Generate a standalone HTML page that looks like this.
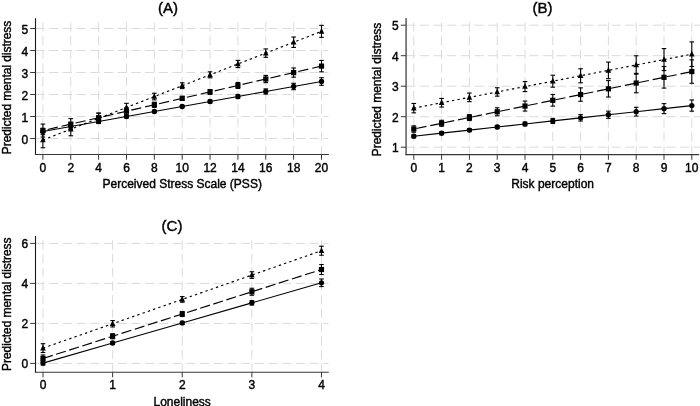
<!DOCTYPE html>
<html><head><meta charset="utf-8"><title>Predicted mental distress</title>
<style>
html,body{margin:0;padding:0;background:#fff;}
body{width:700px;height:406px;overflow:hidden;}
svg{display:block;}
svg text{font-family:"Liberation Sans",Arial,Helvetica,sans-serif;fill:#000;stroke:#000;stroke-width:0.4px;}
</style></head><body>
<svg width="700" height="406" viewBox="0 0 700 406">
<rect x="0" y="0" width="700" height="406" fill="#ffffff"/>
<line x1="35.50" y1="138.50" x2="328.40" y2="138.50" stroke="#dbdbdb" stroke-width="1" stroke-dasharray="9.2 4.5"/>
<line x1="35.50" y1="116.50" x2="328.40" y2="116.50" stroke="#dbdbdb" stroke-width="1" stroke-dasharray="9.2 4.5"/>
<line x1="35.50" y1="94.50" x2="328.40" y2="94.50" stroke="#dbdbdb" stroke-width="1" stroke-dasharray="9.2 4.5"/>
<line x1="35.50" y1="72.50" x2="328.40" y2="72.50" stroke="#dbdbdb" stroke-width="1" stroke-dasharray="9.2 4.5"/>
<line x1="35.50" y1="50.50" x2="328.40" y2="50.50" stroke="#dbdbdb" stroke-width="1" stroke-dasharray="9.2 4.5"/>
<line x1="35.50" y1="28.50" x2="328.40" y2="28.50" stroke="#dbdbdb" stroke-width="1" stroke-dasharray="9.2 4.5"/>
<line x1="42.90" y1="22.30" x2="42.90" y2="154.50" stroke="#dbdbdb" stroke-width="1" stroke-dasharray="9.2 4.5"/>
<line x1="70.76" y1="22.30" x2="70.76" y2="154.50" stroke="#dbdbdb" stroke-width="1" stroke-dasharray="9.2 4.5"/>
<line x1="98.62" y1="22.30" x2="98.62" y2="154.50" stroke="#dbdbdb" stroke-width="1" stroke-dasharray="9.2 4.5"/>
<line x1="126.48" y1="22.30" x2="126.48" y2="154.50" stroke="#dbdbdb" stroke-width="1" stroke-dasharray="9.2 4.5"/>
<line x1="154.34" y1="22.30" x2="154.34" y2="154.50" stroke="#dbdbdb" stroke-width="1" stroke-dasharray="9.2 4.5"/>
<line x1="182.20" y1="22.30" x2="182.20" y2="154.50" stroke="#dbdbdb" stroke-width="1" stroke-dasharray="9.2 4.5"/>
<line x1="210.06" y1="22.30" x2="210.06" y2="154.50" stroke="#dbdbdb" stroke-width="1" stroke-dasharray="9.2 4.5"/>
<line x1="237.92" y1="22.30" x2="237.92" y2="154.50" stroke="#dbdbdb" stroke-width="1" stroke-dasharray="9.2 4.5"/>
<line x1="265.78" y1="22.30" x2="265.78" y2="154.50" stroke="#dbdbdb" stroke-width="1" stroke-dasharray="9.2 4.5"/>
<line x1="293.64" y1="22.30" x2="293.64" y2="154.50" stroke="#dbdbdb" stroke-width="1" stroke-dasharray="9.2 4.5"/>
<line x1="321.50" y1="22.30" x2="321.50" y2="154.50" stroke="#dbdbdb" stroke-width="1" stroke-dasharray="9.2 4.5"/>
<line x1="35.50" y1="18.20" x2="35.50" y2="155.05" stroke="#1a1a1a" stroke-width="1.1"/>
<line x1="34.95" y1="154.50" x2="328.90" y2="154.50" stroke="#383838" stroke-width="1.05"/>
<line x1="30.20" y1="138.50" x2="35.50" y2="138.50" stroke="#383838" stroke-width="1.0"/>
<text x="28.20" y="143.50" font-size="12" text-anchor="end">0</text>
<line x1="30.20" y1="116.50" x2="35.50" y2="116.50" stroke="#383838" stroke-width="1.0"/>
<text x="28.20" y="121.50" font-size="12" text-anchor="end">1</text>
<line x1="30.20" y1="94.50" x2="35.50" y2="94.50" stroke="#383838" stroke-width="1.0"/>
<text x="28.20" y="99.50" font-size="12" text-anchor="end">2</text>
<line x1="30.20" y1="72.50" x2="35.50" y2="72.50" stroke="#383838" stroke-width="1.0"/>
<text x="28.20" y="77.50" font-size="12" text-anchor="end">3</text>
<line x1="30.20" y1="50.50" x2="35.50" y2="50.50" stroke="#383838" stroke-width="1.0"/>
<text x="28.20" y="55.50" font-size="12" text-anchor="end">4</text>
<line x1="30.20" y1="28.50" x2="35.50" y2="28.50" stroke="#383838" stroke-width="1.0"/>
<text x="28.20" y="33.50" font-size="12" text-anchor="end">5</text>
<line x1="42.90" y1="154.50" x2="42.90" y2="159.70" stroke="#383838" stroke-width="1.0"/>
<text x="42.90" y="171.50" font-size="12" text-anchor="middle">0</text>
<line x1="70.76" y1="154.50" x2="70.76" y2="159.70" stroke="#383838" stroke-width="1.0"/>
<text x="70.76" y="171.50" font-size="12" text-anchor="middle">2</text>
<line x1="98.62" y1="154.50" x2="98.62" y2="159.70" stroke="#383838" stroke-width="1.0"/>
<text x="98.62" y="171.50" font-size="12" text-anchor="middle">4</text>
<line x1="126.48" y1="154.50" x2="126.48" y2="159.70" stroke="#383838" stroke-width="1.0"/>
<text x="126.48" y="171.50" font-size="12" text-anchor="middle">6</text>
<line x1="154.34" y1="154.50" x2="154.34" y2="159.70" stroke="#383838" stroke-width="1.0"/>
<text x="154.34" y="171.50" font-size="12" text-anchor="middle">8</text>
<line x1="182.20" y1="154.50" x2="182.20" y2="159.70" stroke="#383838" stroke-width="1.0"/>
<text x="182.20" y="171.50" font-size="12" text-anchor="middle">10</text>
<line x1="210.06" y1="154.50" x2="210.06" y2="159.70" stroke="#383838" stroke-width="1.0"/>
<text x="210.06" y="171.50" font-size="12" text-anchor="middle">12</text>
<line x1="237.92" y1="154.50" x2="237.92" y2="159.70" stroke="#383838" stroke-width="1.0"/>
<text x="237.92" y="171.50" font-size="12" text-anchor="middle">14</text>
<line x1="265.78" y1="154.50" x2="265.78" y2="159.70" stroke="#383838" stroke-width="1.0"/>
<text x="265.78" y="171.50" font-size="12" text-anchor="middle">16</text>
<line x1="293.64" y1="154.50" x2="293.64" y2="159.70" stroke="#383838" stroke-width="1.0"/>
<text x="293.64" y="171.50" font-size="12" text-anchor="middle">18</text>
<line x1="321.50" y1="154.50" x2="321.50" y2="159.70" stroke="#383838" stroke-width="1.0"/>
<text x="321.50" y="171.50" font-size="12" text-anchor="middle">20</text>
<text x="182.20" y="188.30" font-size="12" text-anchor="middle">Perceived Stress Scale (PSS)</text>
<text x="10.70" y="87.50" font-size="12" text-anchor="middle" transform="rotate(-90 10.70 87.50)" textLength="133.5" lengthAdjust="spacing">Predicted mental distress</text>
<text x="168.00" y="12.50" font-size="15" text-anchor="middle">(A)</text>
<polyline fill="none" stroke="#000" stroke-width="1.15" points="42.90,131.46 70.76,126.47 98.62,121.47 126.48,116.48 154.34,111.48 182.20,106.49 210.06,101.50 237.92,96.50 265.78,91.51 293.64,86.51 321.50,81.52"/>
<polyline fill="none" stroke="#000" stroke-width="1.15" stroke-dasharray="10.3 3.99" stroke-dashoffset="9.39" points="42.90,130.58 70.76,124.13 98.62,117.69 126.48,111.24 154.34,104.80 182.20,98.35 210.06,91.90 237.92,85.46 265.78,79.01 293.64,72.57 321.50,66.12"/>
<polyline fill="none" stroke="#000" stroke-width="1.15" stroke-dasharray="2.4 3.15" stroke-dashoffset="0" points="42.90,140.04 70.76,129.17 98.62,118.30 126.48,107.44 154.34,96.57 182.20,85.70 210.06,74.83 237.92,63.96 265.78,53.10 293.64,42.23 321.50,31.36"/>
<line x1="42.90" y1="128.26" x2="42.90" y2="134.66" stroke="#000" stroke-width="1.1"/>
<line x1="40.60" y1="128.26" x2="45.20" y2="128.26" stroke="#000" stroke-width="1.1"/>
<line x1="40.60" y1="134.66" x2="45.20" y2="134.66" stroke="#000" stroke-width="1.1"/>
<circle cx="42.90" cy="131.46" r="2.65" fill="#000"/>
<line x1="70.76" y1="123.87" x2="70.76" y2="129.07" stroke="#000" stroke-width="1.1"/>
<line x1="68.46" y1="123.87" x2="73.06" y2="123.87" stroke="#000" stroke-width="1.1"/>
<line x1="68.46" y1="129.07" x2="73.06" y2="129.07" stroke="#000" stroke-width="1.1"/>
<circle cx="70.76" cy="126.47" r="2.65" fill="#000"/>
<line x1="98.62" y1="119.47" x2="98.62" y2="123.47" stroke="#000" stroke-width="1.1"/>
<line x1="96.32" y1="119.47" x2="100.92" y2="119.47" stroke="#000" stroke-width="1.1"/>
<line x1="96.32" y1="123.47" x2="100.92" y2="123.47" stroke="#000" stroke-width="1.1"/>
<circle cx="98.62" cy="121.47" r="2.65" fill="#000"/>
<line x1="126.48" y1="114.98" x2="126.48" y2="117.98" stroke="#000" stroke-width="1.1"/>
<line x1="124.18" y1="114.98" x2="128.78" y2="114.98" stroke="#000" stroke-width="1.1"/>
<line x1="124.18" y1="117.98" x2="128.78" y2="117.98" stroke="#000" stroke-width="1.1"/>
<circle cx="126.48" cy="116.48" r="2.65" fill="#000"/>
<line x1="154.34" y1="110.28" x2="154.34" y2="112.68" stroke="#000" stroke-width="1.1"/>
<line x1="152.04" y1="110.28" x2="156.64" y2="110.28" stroke="#000" stroke-width="1.1"/>
<line x1="152.04" y1="112.68" x2="156.64" y2="112.68" stroke="#000" stroke-width="1.1"/>
<circle cx="154.34" cy="111.48" r="2.65" fill="#000"/>
<line x1="182.20" y1="105.29" x2="182.20" y2="107.69" stroke="#000" stroke-width="1.1"/>
<line x1="179.90" y1="105.29" x2="184.50" y2="105.29" stroke="#000" stroke-width="1.1"/>
<line x1="179.90" y1="107.69" x2="184.50" y2="107.69" stroke="#000" stroke-width="1.1"/>
<circle cx="182.20" cy="106.49" r="2.65" fill="#000"/>
<line x1="210.06" y1="100.00" x2="210.06" y2="103.00" stroke="#000" stroke-width="1.1"/>
<line x1="207.76" y1="100.00" x2="212.36" y2="100.00" stroke="#000" stroke-width="1.1"/>
<line x1="207.76" y1="103.00" x2="212.36" y2="103.00" stroke="#000" stroke-width="1.1"/>
<circle cx="210.06" cy="101.50" r="2.65" fill="#000"/>
<line x1="237.92" y1="94.50" x2="237.92" y2="98.50" stroke="#000" stroke-width="1.1"/>
<line x1="235.62" y1="94.50" x2="240.22" y2="94.50" stroke="#000" stroke-width="1.1"/>
<line x1="235.62" y1="98.50" x2="240.22" y2="98.50" stroke="#000" stroke-width="1.1"/>
<circle cx="237.92" cy="96.50" r="2.65" fill="#000"/>
<line x1="265.78" y1="88.91" x2="265.78" y2="94.11" stroke="#000" stroke-width="1.1"/>
<line x1="263.48" y1="88.91" x2="268.08" y2="88.91" stroke="#000" stroke-width="1.1"/>
<line x1="263.48" y1="94.11" x2="268.08" y2="94.11" stroke="#000" stroke-width="1.1"/>
<circle cx="265.78" cy="91.51" r="2.65" fill="#000"/>
<line x1="293.64" y1="83.31" x2="293.64" y2="89.71" stroke="#000" stroke-width="1.1"/>
<line x1="291.34" y1="83.31" x2="295.94" y2="83.31" stroke="#000" stroke-width="1.1"/>
<line x1="291.34" y1="89.71" x2="295.94" y2="89.71" stroke="#000" stroke-width="1.1"/>
<circle cx="293.64" cy="86.51" r="2.65" fill="#000"/>
<line x1="321.50" y1="77.72" x2="321.50" y2="85.32" stroke="#000" stroke-width="1.1"/>
<line x1="319.20" y1="77.72" x2="323.80" y2="77.72" stroke="#000" stroke-width="1.1"/>
<line x1="319.20" y1="85.32" x2="323.80" y2="85.32" stroke="#000" stroke-width="1.1"/>
<circle cx="321.50" cy="81.52" r="2.65" fill="#000"/>
<line x1="42.90" y1="124.08" x2="42.90" y2="137.08" stroke="#000" stroke-width="1.1"/>
<line x1="40.60" y1="124.08" x2="45.20" y2="124.08" stroke="#000" stroke-width="1.1"/>
<line x1="40.60" y1="137.08" x2="45.20" y2="137.08" stroke="#000" stroke-width="1.1"/>
<rect x="40.30" y="127.98" width="5.2" height="5.2" fill="#000"/>
<line x1="70.76" y1="118.63" x2="70.76" y2="129.63" stroke="#000" stroke-width="1.1"/>
<line x1="68.46" y1="118.63" x2="73.06" y2="118.63" stroke="#000" stroke-width="1.1"/>
<line x1="68.46" y1="129.63" x2="73.06" y2="129.63" stroke="#000" stroke-width="1.1"/>
<rect x="68.16" y="121.53" width="5.2" height="5.2" fill="#000"/>
<line x1="98.62" y1="113.19" x2="98.62" y2="122.19" stroke="#000" stroke-width="1.1"/>
<line x1="96.32" y1="113.19" x2="100.92" y2="113.19" stroke="#000" stroke-width="1.1"/>
<line x1="96.32" y1="122.19" x2="100.92" y2="122.19" stroke="#000" stroke-width="1.1"/>
<rect x="96.02" y="115.09" width="5.2" height="5.2" fill="#000"/>
<line x1="126.48" y1="107.74" x2="126.48" y2="114.74" stroke="#000" stroke-width="1.1"/>
<line x1="124.18" y1="107.74" x2="128.78" y2="107.74" stroke="#000" stroke-width="1.1"/>
<line x1="124.18" y1="114.74" x2="128.78" y2="114.74" stroke="#000" stroke-width="1.1"/>
<rect x="123.88" y="108.64" width="5.2" height="5.2" fill="#000"/>
<line x1="154.34" y1="102.20" x2="154.34" y2="107.40" stroke="#000" stroke-width="1.1"/>
<line x1="152.04" y1="102.20" x2="156.64" y2="102.20" stroke="#000" stroke-width="1.1"/>
<line x1="152.04" y1="107.40" x2="156.64" y2="107.40" stroke="#000" stroke-width="1.1"/>
<rect x="151.74" y="102.20" width="5.2" height="5.2" fill="#000"/>
<line x1="182.20" y1="96.35" x2="182.20" y2="100.35" stroke="#000" stroke-width="1.1"/>
<line x1="179.90" y1="96.35" x2="184.50" y2="96.35" stroke="#000" stroke-width="1.1"/>
<line x1="179.90" y1="100.35" x2="184.50" y2="100.35" stroke="#000" stroke-width="1.1"/>
<rect x="179.60" y="95.75" width="5.2" height="5.2" fill="#000"/>
<line x1="210.06" y1="89.50" x2="210.06" y2="94.30" stroke="#000" stroke-width="1.1"/>
<line x1="207.76" y1="89.50" x2="212.36" y2="89.50" stroke="#000" stroke-width="1.1"/>
<line x1="207.76" y1="94.30" x2="212.36" y2="94.30" stroke="#000" stroke-width="1.1"/>
<rect x="207.46" y="89.30" width="5.2" height="5.2" fill="#000"/>
<line x1="237.92" y1="82.46" x2="237.92" y2="88.46" stroke="#000" stroke-width="1.1"/>
<line x1="235.62" y1="82.46" x2="240.22" y2="82.46" stroke="#000" stroke-width="1.1"/>
<line x1="235.62" y1="88.46" x2="240.22" y2="88.46" stroke="#000" stroke-width="1.1"/>
<rect x="235.32" y="82.86" width="5.2" height="5.2" fill="#000"/>
<line x1="265.78" y1="75.41" x2="265.78" y2="82.61" stroke="#000" stroke-width="1.1"/>
<line x1="263.48" y1="75.41" x2="268.08" y2="75.41" stroke="#000" stroke-width="1.1"/>
<line x1="263.48" y1="82.61" x2="268.08" y2="82.61" stroke="#000" stroke-width="1.1"/>
<rect x="263.18" y="76.41" width="5.2" height="5.2" fill="#000"/>
<line x1="293.64" y1="67.97" x2="293.64" y2="77.17" stroke="#000" stroke-width="1.1"/>
<line x1="291.34" y1="67.97" x2="295.94" y2="67.97" stroke="#000" stroke-width="1.1"/>
<line x1="291.34" y1="77.17" x2="295.94" y2="77.17" stroke="#000" stroke-width="1.1"/>
<rect x="291.04" y="69.97" width="5.2" height="5.2" fill="#000"/>
<line x1="321.50" y1="60.42" x2="321.50" y2="71.82" stroke="#000" stroke-width="1.1"/>
<line x1="319.20" y1="60.42" x2="323.80" y2="60.42" stroke="#000" stroke-width="1.1"/>
<line x1="319.20" y1="71.82" x2="323.80" y2="71.82" stroke="#000" stroke-width="1.1"/>
<rect x="318.90" y="63.52" width="5.2" height="5.2" fill="#000"/>
<line x1="42.90" y1="132.34" x2="42.90" y2="147.74" stroke="#000" stroke-width="1.1"/>
<line x1="40.60" y1="132.34" x2="45.20" y2="132.34" stroke="#000" stroke-width="1.1"/>
<line x1="40.60" y1="147.74" x2="45.20" y2="147.74" stroke="#000" stroke-width="1.1"/>
<polygon points="42.90,136.64 40.10,142.34 45.70,142.34" fill="#000"/>
<line x1="70.76" y1="122.57" x2="70.76" y2="135.77" stroke="#000" stroke-width="1.1"/>
<line x1="68.46" y1="122.57" x2="73.06" y2="122.57" stroke="#000" stroke-width="1.1"/>
<line x1="68.46" y1="135.77" x2="73.06" y2="135.77" stroke="#000" stroke-width="1.1"/>
<polygon points="70.76,125.77 67.96,131.47 73.56,131.47" fill="#000"/>
<line x1="98.62" y1="113.10" x2="98.62" y2="123.50" stroke="#000" stroke-width="1.1"/>
<line x1="96.32" y1="113.10" x2="100.92" y2="113.10" stroke="#000" stroke-width="1.1"/>
<line x1="96.32" y1="123.50" x2="100.92" y2="123.50" stroke="#000" stroke-width="1.1"/>
<polygon points="98.62,114.90 95.82,120.60 101.42,120.60" fill="#000"/>
<line x1="126.48" y1="103.34" x2="126.48" y2="111.54" stroke="#000" stroke-width="1.1"/>
<line x1="124.18" y1="103.34" x2="128.78" y2="103.34" stroke="#000" stroke-width="1.1"/>
<line x1="124.18" y1="111.54" x2="128.78" y2="111.54" stroke="#000" stroke-width="1.1"/>
<polygon points="126.48,104.04 123.68,109.74 129.28,109.74" fill="#000"/>
<line x1="154.34" y1="93.27" x2="154.34" y2="99.87" stroke="#000" stroke-width="1.1"/>
<line x1="152.04" y1="93.27" x2="156.64" y2="93.27" stroke="#000" stroke-width="1.1"/>
<line x1="152.04" y1="99.87" x2="156.64" y2="99.87" stroke="#000" stroke-width="1.1"/>
<polygon points="154.34,93.17 151.54,98.87 157.14,98.87" fill="#000"/>
<line x1="182.20" y1="82.80" x2="182.20" y2="88.60" stroke="#000" stroke-width="1.1"/>
<line x1="179.90" y1="82.80" x2="184.50" y2="82.80" stroke="#000" stroke-width="1.1"/>
<line x1="179.90" y1="88.60" x2="184.50" y2="88.60" stroke="#000" stroke-width="1.1"/>
<polygon points="182.20,82.30 179.40,88.00 185.00,88.00" fill="#000"/>
<line x1="210.06" y1="71.83" x2="210.06" y2="77.83" stroke="#000" stroke-width="1.1"/>
<line x1="207.76" y1="71.83" x2="212.36" y2="71.83" stroke="#000" stroke-width="1.1"/>
<line x1="207.76" y1="77.83" x2="212.36" y2="77.83" stroke="#000" stroke-width="1.1"/>
<polygon points="210.06,71.43 207.26,77.13 212.86,77.13" fill="#000"/>
<line x1="237.92" y1="60.36" x2="237.92" y2="67.56" stroke="#000" stroke-width="1.1"/>
<line x1="235.62" y1="60.36" x2="240.22" y2="60.36" stroke="#000" stroke-width="1.1"/>
<line x1="235.62" y1="67.56" x2="240.22" y2="67.56" stroke="#000" stroke-width="1.1"/>
<polygon points="237.92,60.56 235.12,66.26 240.72,66.26" fill="#000"/>
<line x1="265.78" y1="48.90" x2="265.78" y2="57.30" stroke="#000" stroke-width="1.1"/>
<line x1="263.48" y1="48.90" x2="268.08" y2="48.90" stroke="#000" stroke-width="1.1"/>
<line x1="263.48" y1="57.30" x2="268.08" y2="57.30" stroke="#000" stroke-width="1.1"/>
<polygon points="265.78,49.70 262.98,55.40 268.58,55.40" fill="#000"/>
<line x1="293.64" y1="37.03" x2="293.64" y2="47.43" stroke="#000" stroke-width="1.1"/>
<line x1="291.34" y1="37.03" x2="295.94" y2="37.03" stroke="#000" stroke-width="1.1"/>
<line x1="291.34" y1="47.43" x2="295.94" y2="47.43" stroke="#000" stroke-width="1.1"/>
<polygon points="293.64,38.83 290.84,44.53 296.44,44.53" fill="#000"/>
<line x1="321.50" y1="25.36" x2="321.50" y2="37.36" stroke="#000" stroke-width="1.1"/>
<line x1="319.20" y1="25.36" x2="323.80" y2="25.36" stroke="#000" stroke-width="1.1"/>
<line x1="319.20" y1="37.36" x2="323.80" y2="37.36" stroke="#000" stroke-width="1.1"/>
<polygon points="321.50,27.96 318.70,33.66 324.30,33.66" fill="#000"/>
<line x1="406.10" y1="147.20" x2="700.00" y2="147.20" stroke="#dbdbdb" stroke-width="1" stroke-dasharray="9.2 4.5"/>
<line x1="406.10" y1="116.70" x2="700.00" y2="116.70" stroke="#dbdbdb" stroke-width="1" stroke-dasharray="9.2 4.5"/>
<line x1="406.10" y1="86.20" x2="700.00" y2="86.20" stroke="#dbdbdb" stroke-width="1" stroke-dasharray="9.2 4.5"/>
<line x1="406.10" y1="55.70" x2="700.00" y2="55.70" stroke="#dbdbdb" stroke-width="1" stroke-dasharray="9.2 4.5"/>
<line x1="406.10" y1="25.20" x2="700.00" y2="25.20" stroke="#dbdbdb" stroke-width="1" stroke-dasharray="9.2 4.5"/>
<line x1="413.80" y1="22.40" x2="413.80" y2="154.60" stroke="#dbdbdb" stroke-width="1" stroke-dasharray="9.2 4.5"/>
<line x1="441.60" y1="22.40" x2="441.60" y2="154.60" stroke="#dbdbdb" stroke-width="1" stroke-dasharray="9.2 4.5"/>
<line x1="469.40" y1="22.40" x2="469.40" y2="154.60" stroke="#dbdbdb" stroke-width="1" stroke-dasharray="9.2 4.5"/>
<line x1="497.20" y1="22.40" x2="497.20" y2="154.60" stroke="#dbdbdb" stroke-width="1" stroke-dasharray="9.2 4.5"/>
<line x1="525.00" y1="22.40" x2="525.00" y2="154.60" stroke="#dbdbdb" stroke-width="1" stroke-dasharray="9.2 4.5"/>
<line x1="552.80" y1="22.40" x2="552.80" y2="154.60" stroke="#dbdbdb" stroke-width="1" stroke-dasharray="9.2 4.5"/>
<line x1="580.60" y1="22.40" x2="580.60" y2="154.60" stroke="#dbdbdb" stroke-width="1" stroke-dasharray="9.2 4.5"/>
<line x1="608.40" y1="22.40" x2="608.40" y2="154.60" stroke="#dbdbdb" stroke-width="1" stroke-dasharray="9.2 4.5"/>
<line x1="636.20" y1="22.40" x2="636.20" y2="154.60" stroke="#dbdbdb" stroke-width="1" stroke-dasharray="9.2 4.5"/>
<line x1="664.00" y1="22.40" x2="664.00" y2="154.60" stroke="#dbdbdb" stroke-width="1" stroke-dasharray="9.2 4.5"/>
<line x1="691.80" y1="22.40" x2="691.80" y2="154.60" stroke="#dbdbdb" stroke-width="1" stroke-dasharray="9.2 4.5"/>
<line x1="406.10" y1="18.00" x2="406.10" y2="155.15" stroke="#6e6e6e" stroke-width="1.7"/>
<line x1="405.55" y1="154.60" x2="699.20" y2="154.60" stroke="#383838" stroke-width="1.05"/>
<line x1="400.80" y1="147.20" x2="406.10" y2="147.20" stroke="#383838" stroke-width="1.0"/>
<text x="398.80" y="152.20" font-size="12" text-anchor="end">1</text>
<line x1="400.80" y1="116.70" x2="406.10" y2="116.70" stroke="#383838" stroke-width="1.0"/>
<text x="398.80" y="121.70" font-size="12" text-anchor="end">2</text>
<line x1="400.80" y1="86.20" x2="406.10" y2="86.20" stroke="#383838" stroke-width="1.0"/>
<text x="398.80" y="91.20" font-size="12" text-anchor="end">3</text>
<line x1="400.80" y1="55.70" x2="406.10" y2="55.70" stroke="#383838" stroke-width="1.0"/>
<text x="398.80" y="60.70" font-size="12" text-anchor="end">4</text>
<line x1="400.80" y1="25.20" x2="406.10" y2="25.20" stroke="#383838" stroke-width="1.0"/>
<text x="398.80" y="30.20" font-size="12" text-anchor="end">5</text>
<line x1="413.80" y1="154.60" x2="413.80" y2="159.80" stroke="#383838" stroke-width="1.0"/>
<text x="413.80" y="171.60" font-size="12" text-anchor="middle">0</text>
<line x1="441.60" y1="154.60" x2="441.60" y2="159.80" stroke="#383838" stroke-width="1.0"/>
<text x="441.60" y="171.60" font-size="12" text-anchor="middle">1</text>
<line x1="469.40" y1="154.60" x2="469.40" y2="159.80" stroke="#383838" stroke-width="1.0"/>
<text x="469.40" y="171.60" font-size="12" text-anchor="middle">2</text>
<line x1="497.20" y1="154.60" x2="497.20" y2="159.80" stroke="#383838" stroke-width="1.0"/>
<text x="497.20" y="171.60" font-size="12" text-anchor="middle">3</text>
<line x1="525.00" y1="154.60" x2="525.00" y2="159.80" stroke="#383838" stroke-width="1.0"/>
<text x="525.00" y="171.60" font-size="12" text-anchor="middle">4</text>
<line x1="552.80" y1="154.60" x2="552.80" y2="159.80" stroke="#383838" stroke-width="1.0"/>
<text x="552.80" y="171.60" font-size="12" text-anchor="middle">5</text>
<line x1="580.60" y1="154.60" x2="580.60" y2="159.80" stroke="#383838" stroke-width="1.0"/>
<text x="580.60" y="171.60" font-size="12" text-anchor="middle">6</text>
<line x1="608.40" y1="154.60" x2="608.40" y2="159.80" stroke="#383838" stroke-width="1.0"/>
<text x="608.40" y="171.60" font-size="12" text-anchor="middle">7</text>
<line x1="636.20" y1="154.60" x2="636.20" y2="159.80" stroke="#383838" stroke-width="1.0"/>
<text x="636.20" y="171.60" font-size="12" text-anchor="middle">8</text>
<line x1="664.00" y1="154.60" x2="664.00" y2="159.80" stroke="#383838" stroke-width="1.0"/>
<text x="664.00" y="171.60" font-size="12" text-anchor="middle">9</text>
<line x1="691.80" y1="154.60" x2="691.80" y2="159.80" stroke="#383838" stroke-width="1.0"/>
<text x="691.80" y="171.60" font-size="12" text-anchor="middle">10</text>
<text x="552.65" y="188.40" font-size="12" text-anchor="middle">Risk perception</text>
<text x="381.20" y="89.50" font-size="12" text-anchor="middle" transform="rotate(-90 381.20 89.50)" textLength="133.5" lengthAdjust="spacing">Predicted mental distress</text>
<text x="542.40" y="12.50" font-size="15" text-anchor="middle">(B)</text>
<polyline fill="none" stroke="#000" stroke-width="1.15" points="413.80,136.22 441.60,133.15 469.40,130.09 497.20,127.02 525.00,123.96 552.80,120.89 580.60,117.83 608.40,114.76 636.20,111.70 664.00,108.63 691.80,105.57"/>
<polyline fill="none" stroke="#000" stroke-width="1.15" stroke-dasharray="10.3 3.895" stroke-dashoffset="11.595" points="413.80,129.05 441.60,123.30 469.40,117.55 497.20,111.80 525.00,106.06 552.80,100.31 580.60,94.56 608.40,88.81 636.20,83.06 664.00,77.31 691.80,71.56"/>
<polyline fill="none" stroke="#000" stroke-width="1.15" stroke-dasharray="2.4 3.15" stroke-dashoffset="0" points="413.80,108.16 441.60,102.76 469.40,97.36 497.20,91.96 525.00,86.57 552.80,81.17 580.60,75.77 608.40,70.37 636.20,64.97 664.00,59.57 691.80,54.17"/>
<line x1="413.80" y1="134.62" x2="413.80" y2="137.82" stroke="#000" stroke-width="1.1"/>
<line x1="411.50" y1="134.62" x2="416.10" y2="134.62" stroke="#000" stroke-width="1.1"/>
<line x1="411.50" y1="137.82" x2="416.10" y2="137.82" stroke="#000" stroke-width="1.1"/>
<circle cx="413.80" cy="136.22" r="2.65" fill="#000"/>
<line x1="441.60" y1="131.65" x2="441.60" y2="134.65" stroke="#000" stroke-width="1.1"/>
<line x1="439.30" y1="131.65" x2="443.90" y2="131.65" stroke="#000" stroke-width="1.1"/>
<line x1="439.30" y1="134.65" x2="443.90" y2="134.65" stroke="#000" stroke-width="1.1"/>
<circle cx="441.60" cy="133.15" r="2.65" fill="#000"/>
<line x1="469.40" y1="128.59" x2="469.40" y2="131.59" stroke="#000" stroke-width="1.1"/>
<line x1="467.10" y1="128.59" x2="471.70" y2="128.59" stroke="#000" stroke-width="1.1"/>
<line x1="467.10" y1="131.59" x2="471.70" y2="131.59" stroke="#000" stroke-width="1.1"/>
<circle cx="469.40" cy="130.09" r="2.65" fill="#000"/>
<line x1="497.20" y1="125.42" x2="497.20" y2="128.62" stroke="#000" stroke-width="1.1"/>
<line x1="494.90" y1="125.42" x2="499.50" y2="125.42" stroke="#000" stroke-width="1.1"/>
<line x1="494.90" y1="128.62" x2="499.50" y2="128.62" stroke="#000" stroke-width="1.1"/>
<circle cx="497.20" cy="127.02" r="2.65" fill="#000"/>
<line x1="525.00" y1="122.06" x2="525.00" y2="125.86" stroke="#000" stroke-width="1.1"/>
<line x1="522.70" y1="122.06" x2="527.30" y2="122.06" stroke="#000" stroke-width="1.1"/>
<line x1="522.70" y1="125.86" x2="527.30" y2="125.86" stroke="#000" stroke-width="1.1"/>
<circle cx="525.00" cy="123.96" r="2.65" fill="#000"/>
<line x1="552.80" y1="118.39" x2="552.80" y2="123.39" stroke="#000" stroke-width="1.1"/>
<line x1="550.50" y1="118.39" x2="555.10" y2="118.39" stroke="#000" stroke-width="1.1"/>
<line x1="550.50" y1="123.39" x2="555.10" y2="123.39" stroke="#000" stroke-width="1.1"/>
<circle cx="552.80" cy="120.89" r="2.65" fill="#000"/>
<line x1="580.60" y1="114.63" x2="580.60" y2="121.03" stroke="#000" stroke-width="1.1"/>
<line x1="578.30" y1="114.63" x2="582.90" y2="114.63" stroke="#000" stroke-width="1.1"/>
<line x1="578.30" y1="121.03" x2="582.90" y2="121.03" stroke="#000" stroke-width="1.1"/>
<circle cx="580.60" cy="117.83" r="2.65" fill="#000"/>
<line x1="608.40" y1="111.16" x2="608.40" y2="118.36" stroke="#000" stroke-width="1.1"/>
<line x1="606.10" y1="111.16" x2="610.70" y2="111.16" stroke="#000" stroke-width="1.1"/>
<line x1="606.10" y1="118.36" x2="610.70" y2="118.36" stroke="#000" stroke-width="1.1"/>
<circle cx="608.40" cy="114.76" r="2.65" fill="#000"/>
<line x1="636.20" y1="107.30" x2="636.20" y2="116.10" stroke="#000" stroke-width="1.1"/>
<line x1="633.90" y1="107.30" x2="638.50" y2="107.30" stroke="#000" stroke-width="1.1"/>
<line x1="633.90" y1="116.10" x2="638.50" y2="116.10" stroke="#000" stroke-width="1.1"/>
<circle cx="636.20" cy="111.70" r="2.65" fill="#000"/>
<line x1="664.00" y1="103.63" x2="664.00" y2="113.63" stroke="#000" stroke-width="1.1"/>
<line x1="661.70" y1="103.63" x2="666.30" y2="103.63" stroke="#000" stroke-width="1.1"/>
<line x1="661.70" y1="113.63" x2="666.30" y2="113.63" stroke="#000" stroke-width="1.1"/>
<circle cx="664.00" cy="108.63" r="2.65" fill="#000"/>
<line x1="691.80" y1="99.97" x2="691.80" y2="111.17" stroke="#000" stroke-width="1.1"/>
<line x1="689.50" y1="99.97" x2="694.10" y2="99.97" stroke="#000" stroke-width="1.1"/>
<line x1="689.50" y1="111.17" x2="694.10" y2="111.17" stroke="#000" stroke-width="1.1"/>
<circle cx="691.80" cy="105.57" r="2.65" fill="#000"/>
<line x1="413.80" y1="125.85" x2="413.80" y2="132.25" stroke="#000" stroke-width="1.1"/>
<line x1="411.50" y1="125.85" x2="416.10" y2="125.85" stroke="#000" stroke-width="1.1"/>
<line x1="411.50" y1="132.25" x2="416.10" y2="132.25" stroke="#000" stroke-width="1.1"/>
<rect x="411.20" y="126.45" width="5.2" height="5.2" fill="#000"/>
<line x1="441.60" y1="120.30" x2="441.60" y2="126.30" stroke="#000" stroke-width="1.1"/>
<line x1="439.30" y1="120.30" x2="443.90" y2="120.30" stroke="#000" stroke-width="1.1"/>
<line x1="439.30" y1="126.30" x2="443.90" y2="126.30" stroke="#000" stroke-width="1.1"/>
<rect x="439.00" y="120.70" width="5.2" height="5.2" fill="#000"/>
<line x1="469.40" y1="114.55" x2="469.40" y2="120.55" stroke="#000" stroke-width="1.1"/>
<line x1="467.10" y1="114.55" x2="471.70" y2="114.55" stroke="#000" stroke-width="1.1"/>
<line x1="467.10" y1="120.55" x2="471.70" y2="120.55" stroke="#000" stroke-width="1.1"/>
<rect x="466.80" y="114.95" width="5.2" height="5.2" fill="#000"/>
<line x1="497.20" y1="107.80" x2="497.20" y2="115.80" stroke="#000" stroke-width="1.1"/>
<line x1="494.90" y1="107.80" x2="499.50" y2="107.80" stroke="#000" stroke-width="1.1"/>
<line x1="494.90" y1="115.80" x2="499.50" y2="115.80" stroke="#000" stroke-width="1.1"/>
<rect x="494.60" y="109.20" width="5.2" height="5.2" fill="#000"/>
<line x1="525.00" y1="101.06" x2="525.00" y2="111.06" stroke="#000" stroke-width="1.1"/>
<line x1="522.70" y1="101.06" x2="527.30" y2="101.06" stroke="#000" stroke-width="1.1"/>
<line x1="522.70" y1="111.06" x2="527.30" y2="111.06" stroke="#000" stroke-width="1.1"/>
<rect x="522.40" y="103.46" width="5.2" height="5.2" fill="#000"/>
<line x1="552.80" y1="94.51" x2="552.80" y2="106.11" stroke="#000" stroke-width="1.1"/>
<line x1="550.50" y1="94.51" x2="555.10" y2="94.51" stroke="#000" stroke-width="1.1"/>
<line x1="550.50" y1="106.11" x2="555.10" y2="106.11" stroke="#000" stroke-width="1.1"/>
<rect x="550.20" y="97.71" width="5.2" height="5.2" fill="#000"/>
<line x1="580.60" y1="87.86" x2="580.60" y2="101.26" stroke="#000" stroke-width="1.1"/>
<line x1="578.30" y1="87.86" x2="582.90" y2="87.86" stroke="#000" stroke-width="1.1"/>
<line x1="578.30" y1="101.26" x2="582.90" y2="101.26" stroke="#000" stroke-width="1.1"/>
<rect x="578.00" y="91.96" width="5.2" height="5.2" fill="#000"/>
<line x1="608.40" y1="80.61" x2="608.40" y2="97.01" stroke="#000" stroke-width="1.1"/>
<line x1="606.10" y1="80.61" x2="610.70" y2="80.61" stroke="#000" stroke-width="1.1"/>
<line x1="606.10" y1="97.01" x2="610.70" y2="97.01" stroke="#000" stroke-width="1.1"/>
<rect x="605.80" y="86.21" width="5.2" height="5.2" fill="#000"/>
<line x1="636.20" y1="73.36" x2="636.20" y2="92.76" stroke="#000" stroke-width="1.1"/>
<line x1="633.90" y1="73.36" x2="638.50" y2="73.36" stroke="#000" stroke-width="1.1"/>
<line x1="633.90" y1="92.76" x2="638.50" y2="92.76" stroke="#000" stroke-width="1.1"/>
<rect x="633.60" y="80.46" width="5.2" height="5.2" fill="#000"/>
<line x1="664.00" y1="66.51" x2="664.00" y2="88.11" stroke="#000" stroke-width="1.1"/>
<line x1="661.70" y1="66.51" x2="666.30" y2="66.51" stroke="#000" stroke-width="1.1"/>
<line x1="661.70" y1="88.11" x2="666.30" y2="88.11" stroke="#000" stroke-width="1.1"/>
<rect x="661.40" y="74.71" width="5.2" height="5.2" fill="#000"/>
<line x1="691.80" y1="59.86" x2="691.80" y2="83.26" stroke="#000" stroke-width="1.1"/>
<line x1="689.50" y1="59.86" x2="694.10" y2="59.86" stroke="#000" stroke-width="1.1"/>
<line x1="689.50" y1="83.26" x2="694.10" y2="83.26" stroke="#000" stroke-width="1.1"/>
<rect x="689.20" y="68.96" width="5.2" height="5.2" fill="#000"/>
<line x1="413.80" y1="103.46" x2="413.80" y2="112.86" stroke="#000" stroke-width="1.1"/>
<line x1="411.50" y1="103.46" x2="416.10" y2="103.46" stroke="#000" stroke-width="1.1"/>
<line x1="411.50" y1="112.86" x2="416.10" y2="112.86" stroke="#000" stroke-width="1.1"/>
<polygon points="413.80,104.76 411.00,110.46 416.60,110.46" fill="#000"/>
<line x1="441.60" y1="98.46" x2="441.60" y2="107.06" stroke="#000" stroke-width="1.1"/>
<line x1="439.30" y1="98.46" x2="443.90" y2="98.46" stroke="#000" stroke-width="1.1"/>
<line x1="439.30" y1="107.06" x2="443.90" y2="107.06" stroke="#000" stroke-width="1.1"/>
<polygon points="441.60,99.36 438.80,105.06 444.40,105.06" fill="#000"/>
<line x1="469.40" y1="93.06" x2="469.40" y2="101.66" stroke="#000" stroke-width="1.1"/>
<line x1="467.10" y1="93.06" x2="471.70" y2="93.06" stroke="#000" stroke-width="1.1"/>
<line x1="467.10" y1="101.66" x2="471.70" y2="101.66" stroke="#000" stroke-width="1.1"/>
<polygon points="469.40,93.96 466.60,99.66 472.20,99.66" fill="#000"/>
<line x1="497.20" y1="87.76" x2="497.20" y2="96.16" stroke="#000" stroke-width="1.1"/>
<line x1="494.90" y1="87.76" x2="499.50" y2="87.76" stroke="#000" stroke-width="1.1"/>
<line x1="494.90" y1="96.16" x2="499.50" y2="96.16" stroke="#000" stroke-width="1.1"/>
<polygon points="497.20,88.56 494.40,94.26 500.00,94.26" fill="#000"/>
<line x1="525.00" y1="81.57" x2="525.00" y2="91.57" stroke="#000" stroke-width="1.1"/>
<line x1="522.70" y1="81.57" x2="527.30" y2="81.57" stroke="#000" stroke-width="1.1"/>
<line x1="522.70" y1="91.57" x2="527.30" y2="91.57" stroke="#000" stroke-width="1.1"/>
<polygon points="525.00,83.17 522.20,88.87 527.80,88.87" fill="#000"/>
<line x1="552.80" y1="75.17" x2="552.80" y2="87.17" stroke="#000" stroke-width="1.1"/>
<line x1="550.50" y1="75.17" x2="555.10" y2="75.17" stroke="#000" stroke-width="1.1"/>
<line x1="550.50" y1="87.17" x2="555.10" y2="87.17" stroke="#000" stroke-width="1.1"/>
<polygon points="552.80,77.77 550.00,83.47 555.60,83.47" fill="#000"/>
<line x1="580.60" y1="68.77" x2="580.60" y2="82.77" stroke="#000" stroke-width="1.1"/>
<line x1="578.30" y1="68.77" x2="582.90" y2="68.77" stroke="#000" stroke-width="1.1"/>
<line x1="578.30" y1="82.77" x2="582.90" y2="82.77" stroke="#000" stroke-width="1.1"/>
<polygon points="580.60,72.37 577.80,78.07 583.40,78.07" fill="#000"/>
<line x1="608.40" y1="62.07" x2="608.40" y2="78.67" stroke="#000" stroke-width="1.1"/>
<line x1="606.10" y1="62.07" x2="610.70" y2="62.07" stroke="#000" stroke-width="1.1"/>
<line x1="606.10" y1="78.67" x2="610.70" y2="78.67" stroke="#000" stroke-width="1.1"/>
<polygon points="608.40,66.97 605.60,72.67 611.20,72.67" fill="#000"/>
<line x1="636.20" y1="55.77" x2="636.20" y2="74.17" stroke="#000" stroke-width="1.1"/>
<line x1="633.90" y1="55.77" x2="638.50" y2="55.77" stroke="#000" stroke-width="1.1"/>
<line x1="633.90" y1="74.17" x2="638.50" y2="74.17" stroke="#000" stroke-width="1.1"/>
<polygon points="636.20,61.57 633.40,67.27 639.00,67.27" fill="#000"/>
<line x1="664.00" y1="48.57" x2="664.00" y2="70.57" stroke="#000" stroke-width="1.1"/>
<line x1="661.70" y1="48.57" x2="666.30" y2="48.57" stroke="#000" stroke-width="1.1"/>
<line x1="661.70" y1="70.57" x2="666.30" y2="70.57" stroke="#000" stroke-width="1.1"/>
<polygon points="664.00,56.17 661.20,61.87 666.80,61.87" fill="#000"/>
<line x1="691.80" y1="41.88" x2="691.80" y2="66.47" stroke="#000" stroke-width="1.1"/>
<line x1="689.50" y1="41.88" x2="694.10" y2="41.88" stroke="#000" stroke-width="1.1"/>
<line x1="689.50" y1="66.47" x2="694.10" y2="66.47" stroke="#000" stroke-width="1.1"/>
<polygon points="691.80,50.77 689.00,56.47 694.60,56.47" fill="#000"/>
<line x1="35.50" y1="363.40" x2="328.40" y2="363.40" stroke="#dbdbdb" stroke-width="1" stroke-dasharray="9.2 4.5"/>
<line x1="35.50" y1="323.40" x2="328.40" y2="323.40" stroke="#dbdbdb" stroke-width="1" stroke-dasharray="9.2 4.5"/>
<line x1="35.50" y1="283.40" x2="328.40" y2="283.40" stroke="#dbdbdb" stroke-width="1" stroke-dasharray="9.2 4.5"/>
<line x1="35.50" y1="243.40" x2="328.40" y2="243.40" stroke="#dbdbdb" stroke-width="1" stroke-dasharray="9.2 4.5"/>
<line x1="43.00" y1="240.30" x2="43.00" y2="372.20" stroke="#dbdbdb" stroke-width="1" stroke-dasharray="9.2 4.5"/>
<line x1="112.62" y1="240.30" x2="112.62" y2="372.20" stroke="#dbdbdb" stroke-width="1" stroke-dasharray="9.2 4.5"/>
<line x1="182.24" y1="240.30" x2="182.24" y2="372.20" stroke="#dbdbdb" stroke-width="1" stroke-dasharray="9.2 4.5"/>
<line x1="251.86" y1="240.30" x2="251.86" y2="372.20" stroke="#dbdbdb" stroke-width="1" stroke-dasharray="9.2 4.5"/>
<line x1="321.48" y1="240.30" x2="321.48" y2="372.20" stroke="#dbdbdb" stroke-width="1" stroke-dasharray="9.2 4.5"/>
<line x1="35.50" y1="236.00" x2="35.50" y2="372.75" stroke="#1a1a1a" stroke-width="1.1"/>
<line x1="34.95" y1="372.20" x2="328.80" y2="372.20" stroke="#383838" stroke-width="1.05"/>
<line x1="30.20" y1="363.40" x2="35.50" y2="363.40" stroke="#383838" stroke-width="1.0"/>
<text x="28.20" y="368.40" font-size="12" text-anchor="end">0</text>
<line x1="30.20" y1="323.40" x2="35.50" y2="323.40" stroke="#383838" stroke-width="1.0"/>
<text x="28.20" y="328.40" font-size="12" text-anchor="end">2</text>
<line x1="30.20" y1="283.40" x2="35.50" y2="283.40" stroke="#383838" stroke-width="1.0"/>
<text x="28.20" y="288.40" font-size="12" text-anchor="end">4</text>
<line x1="30.20" y1="243.40" x2="35.50" y2="243.40" stroke="#383838" stroke-width="1.0"/>
<text x="28.20" y="248.40" font-size="12" text-anchor="end">6</text>
<line x1="43.00" y1="372.20" x2="43.00" y2="377.40" stroke="#383838" stroke-width="1.0"/>
<text x="43.00" y="389.20" font-size="12" text-anchor="middle">0</text>
<line x1="112.62" y1="372.20" x2="112.62" y2="377.40" stroke="#383838" stroke-width="1.0"/>
<text x="112.62" y="389.20" font-size="12" text-anchor="middle">1</text>
<line x1="182.24" y1="372.20" x2="182.24" y2="377.40" stroke="#383838" stroke-width="1.0"/>
<text x="182.24" y="389.20" font-size="12" text-anchor="middle">2</text>
<line x1="251.86" y1="372.20" x2="251.86" y2="377.40" stroke="#383838" stroke-width="1.0"/>
<text x="251.86" y="389.20" font-size="12" text-anchor="middle">3</text>
<line x1="321.48" y1="372.20" x2="321.48" y2="377.40" stroke="#383838" stroke-width="1.0"/>
<text x="321.48" y="389.20" font-size="12" text-anchor="middle">4</text>
<text x="182.15" y="406.00" font-size="12" text-anchor="middle">Loneliness</text>
<text x="10.70" y="304.25" font-size="12" text-anchor="middle" transform="rotate(-90 10.70 304.25)" textLength="133.5" lengthAdjust="spacing">Predicted mental distress</text>
<text x="172.00" y="231.00" font-size="15" text-anchor="middle">(C)</text>
<polyline fill="none" stroke="#000" stroke-width="1.15" points="43.00,363.10 112.62,343.02 182.24,322.94 251.86,302.86 321.48,282.78"/>
<polyline fill="none" stroke="#000" stroke-width="1.15" stroke-dasharray="10.2 3.55" stroke-dashoffset="0" points="43.00,358.50 112.62,336.25 182.24,314.00 251.86,291.75 321.48,269.50"/>
<polyline fill="none" stroke="#000" stroke-width="1.15" stroke-dasharray="2.4 3.15" stroke-dashoffset="0" points="43.00,348.10 112.62,323.75 182.24,299.40 251.86,275.05 321.48,250.70"/>
<line x1="43.00" y1="361.10" x2="43.00" y2="365.10" stroke="#000" stroke-width="1.1"/>
<line x1="40.70" y1="361.10" x2="45.30" y2="361.10" stroke="#000" stroke-width="1.1"/>
<line x1="40.70" y1="365.10" x2="45.30" y2="365.10" stroke="#000" stroke-width="1.1"/>
<circle cx="43.00" cy="363.10" r="2.65" fill="#000"/>
<line x1="112.62" y1="341.52" x2="112.62" y2="344.52" stroke="#000" stroke-width="1.1"/>
<line x1="110.32" y1="341.52" x2="114.92" y2="341.52" stroke="#000" stroke-width="1.1"/>
<line x1="110.32" y1="344.52" x2="114.92" y2="344.52" stroke="#000" stroke-width="1.1"/>
<circle cx="112.62" cy="343.02" r="2.65" fill="#000"/>
<line x1="182.24" y1="321.44" x2="182.24" y2="324.44" stroke="#000" stroke-width="1.1"/>
<line x1="179.94" y1="321.44" x2="184.54" y2="321.44" stroke="#000" stroke-width="1.1"/>
<line x1="179.94" y1="324.44" x2="184.54" y2="324.44" stroke="#000" stroke-width="1.1"/>
<circle cx="182.24" cy="322.94" r="2.65" fill="#000"/>
<line x1="251.86" y1="300.66" x2="251.86" y2="305.06" stroke="#000" stroke-width="1.1"/>
<line x1="249.56" y1="300.66" x2="254.16" y2="300.66" stroke="#000" stroke-width="1.1"/>
<line x1="249.56" y1="305.06" x2="254.16" y2="305.06" stroke="#000" stroke-width="1.1"/>
<circle cx="251.86" cy="302.86" r="2.65" fill="#000"/>
<line x1="321.48" y1="278.98" x2="321.48" y2="286.58" stroke="#000" stroke-width="1.1"/>
<line x1="319.18" y1="278.98" x2="323.78" y2="278.98" stroke="#000" stroke-width="1.1"/>
<line x1="319.18" y1="286.58" x2="323.78" y2="286.58" stroke="#000" stroke-width="1.1"/>
<circle cx="321.48" cy="282.78" r="2.65" fill="#000"/>
<line x1="43.00" y1="355.00" x2="43.00" y2="362.00" stroke="#000" stroke-width="1.1"/>
<line x1="40.70" y1="355.00" x2="45.30" y2="355.00" stroke="#000" stroke-width="1.1"/>
<line x1="40.70" y1="362.00" x2="45.30" y2="362.00" stroke="#000" stroke-width="1.1"/>
<rect x="40.40" y="355.90" width="5.2" height="5.2" fill="#000"/>
<line x1="112.62" y1="333.75" x2="112.62" y2="338.75" stroke="#000" stroke-width="1.1"/>
<line x1="110.32" y1="333.75" x2="114.92" y2="333.75" stroke="#000" stroke-width="1.1"/>
<line x1="110.32" y1="338.75" x2="114.92" y2="338.75" stroke="#000" stroke-width="1.1"/>
<rect x="110.02" y="333.65" width="5.2" height="5.2" fill="#000"/>
<line x1="182.24" y1="311.50" x2="182.24" y2="316.50" stroke="#000" stroke-width="1.1"/>
<line x1="179.94" y1="311.50" x2="184.54" y2="311.50" stroke="#000" stroke-width="1.1"/>
<line x1="179.94" y1="316.50" x2="184.54" y2="316.50" stroke="#000" stroke-width="1.1"/>
<rect x="179.64" y="311.40" width="5.2" height="5.2" fill="#000"/>
<line x1="251.86" y1="288.25" x2="251.86" y2="295.25" stroke="#000" stroke-width="1.1"/>
<line x1="249.56" y1="288.25" x2="254.16" y2="288.25" stroke="#000" stroke-width="1.1"/>
<line x1="249.56" y1="295.25" x2="254.16" y2="295.25" stroke="#000" stroke-width="1.1"/>
<rect x="249.26" y="289.15" width="5.2" height="5.2" fill="#000"/>
<line x1="321.48" y1="264.50" x2="321.48" y2="274.50" stroke="#000" stroke-width="1.1"/>
<line x1="319.18" y1="264.50" x2="323.78" y2="264.50" stroke="#000" stroke-width="1.1"/>
<line x1="319.18" y1="274.50" x2="323.78" y2="274.50" stroke="#000" stroke-width="1.1"/>
<rect x="318.88" y="266.90" width="5.2" height="5.2" fill="#000"/>
<line x1="43.00" y1="343.70" x2="43.00" y2="352.50" stroke="#000" stroke-width="1.1"/>
<line x1="40.70" y1="343.70" x2="45.30" y2="343.70" stroke="#000" stroke-width="1.1"/>
<line x1="40.70" y1="352.50" x2="45.30" y2="352.50" stroke="#000" stroke-width="1.1"/>
<polygon points="43.00,344.70 40.20,350.40 45.80,350.40" fill="#000"/>
<line x1="112.62" y1="320.55" x2="112.62" y2="326.95" stroke="#000" stroke-width="1.1"/>
<line x1="110.32" y1="320.55" x2="114.92" y2="320.55" stroke="#000" stroke-width="1.1"/>
<line x1="110.32" y1="326.95" x2="114.92" y2="326.95" stroke="#000" stroke-width="1.1"/>
<polygon points="112.62,320.35 109.82,326.05 115.42,326.05" fill="#000"/>
<line x1="182.24" y1="296.60" x2="182.24" y2="302.20" stroke="#000" stroke-width="1.1"/>
<line x1="179.94" y1="296.60" x2="184.54" y2="296.60" stroke="#000" stroke-width="1.1"/>
<line x1="179.94" y1="302.20" x2="184.54" y2="302.20" stroke="#000" stroke-width="1.1"/>
<polygon points="182.24,296.00 179.44,301.70 185.04,301.70" fill="#000"/>
<line x1="251.86" y1="271.75" x2="251.86" y2="278.35" stroke="#000" stroke-width="1.1"/>
<line x1="249.56" y1="271.75" x2="254.16" y2="271.75" stroke="#000" stroke-width="1.1"/>
<line x1="249.56" y1="278.35" x2="254.16" y2="278.35" stroke="#000" stroke-width="1.1"/>
<polygon points="251.86,271.65 249.06,277.35 254.66,277.35" fill="#000"/>
<line x1="321.48" y1="246.20" x2="321.48" y2="255.20" stroke="#000" stroke-width="1.1"/>
<line x1="319.18" y1="246.20" x2="323.78" y2="246.20" stroke="#000" stroke-width="1.1"/>
<line x1="319.18" y1="255.20" x2="323.78" y2="255.20" stroke="#000" stroke-width="1.1"/>
<polygon points="321.48,247.30 318.68,253.00 324.28,253.00" fill="#000"/>
</svg>
</body></html>
